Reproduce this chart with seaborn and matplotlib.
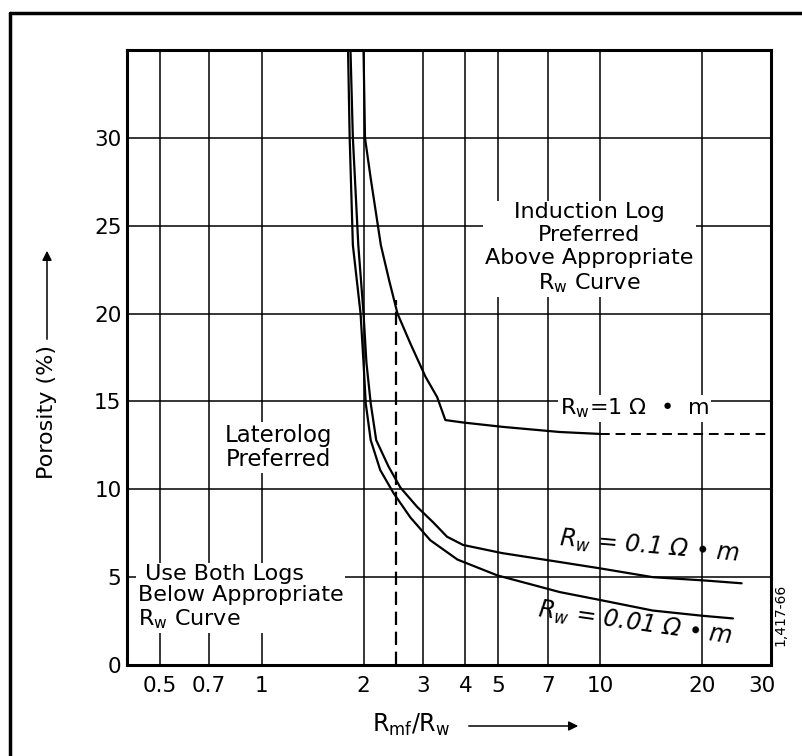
import matplotlib
matplotlib.use("Agg")
import matplotlib.pyplot as plt
import seaborn as sns
import pandas as pd
from matplotlib.lines import Line2D

# curve for Rw = 1 ohm-m (solid part, then dashed extension)
rw1_x = [2.0, 2.02, 2.1, 2.25, 2.38, 2.52, 2.75, 3.05, 3.3, 3.49, 3.94, 5.17, 7.6, 10.0]
rw1_y = [35.0, 30.0, 27.7, 23.9, 21.9, 20.0, 18.3, 16.4, 15.25, 13.94, 13.8, 13.55, 13.26, 13.15]
rw1_ext_x = [10.0, 32.0]
rw1_ext_y = [13.15, 13.15]

# curve for Rw = 0.1 ohm-m
rw01_x = [1.83, 1.86, 1.93, 2.0, 2.04, 2.1, 2.18, 2.37, 2.57, 2.88, 3.22, 3.53, 3.94,
          5.13, 7.6, 10.0, 14.3, 20.7, 26.2]
rw01_y = [35.0, 30.0, 23.9, 20.0, 17.2, 14.9, 12.8, 11.3, 10.1, 9.0, 8.1, 7.3, 6.83,
          6.37, 5.86, 5.5, 5.0, 4.8, 4.65]

# curve for Rw = 0.01 ohm-m
rw001_x = [1.80, 1.82, 1.86, 1.96, 2.0, 2.03, 2.1, 2.24, 2.45, 2.75, 3.15, 3.79, 4.97,
           6.65, 7.6, 10.0, 14.3, 20.1, 24.7]
rw001_y = [35.0, 30.0, 23.9, 20.0, 17.2, 14.9, 12.8, 11.1, 9.8, 8.4, 7.1, 6.0, 5.1,
           4.45, 4.15, 3.7, 3.1, 2.8, 2.65]

# vertical dashed guide at Rmf/Rw = 2.5
guide_x = [2.5, 2.5]
guide_y = [0.0, 20.8]

x_ticks = [0.5, 0.7, 1, 2, 3, 4, 5, 7, 10, 20, 30]
x_tick_labels = ["0.5", "0.7", "1", "2", "3", "4", "5", "7", "10", "20", "30"]
x_grid = [0.5, 0.7, 1, 2, 3, 4, 5, 7, 10, 20]
y_ticks = [0, 5, 10, 15, 20, 25, 30]

sns.set_style("white")
plt.rcParams["font.family"] = ["DejaVu Sans"]
plt.rcParams["mathtext.fontset"] = "dejavusans"
plt.rcParams["text.color"] = "black"

fig = plt.figure(figsize=(8.03, 7.56), dpi=100)
ax = fig.add_axes([127 / 803, 1 - 665 / 756, (771 - 127) / 803, (665 - 50) / 756])
ax.set_xscale("log")

for gx in x_grid:
    ax.axvline(gx, color="black", lw=1.1, zorder=1)
for gy in y_ticks[1:]:
    ax.axhline(gy, color="black", lw=1.1, zorder=1)

curves = pd.DataFrame({
    "x": rw1_x + rw01_x + rw001_x,
    "y": rw1_y + rw01_y + rw001_y,
    "curve": ["1"] * len(rw1_x) + ["0.1"] * len(rw01_x) + ["0.01"] * len(rw001_x),
})
sns.lineplot(data=curves, x="x", y="y", units="curve", estimator=None, sort=False,
             color="black", lw=1.6, ax=ax, zorder=3)
sns.lineplot(x=rw1_ext_x, y=rw1_ext_y, color="black", lw=1.4, ax=ax, zorder=3,
             estimator=None, linestyle=(0, (5, 3)))
sns.lineplot(x=guide_x, y=guide_y, color="black", lw=1.6, ax=ax, zorder=3,
             estimator=None, sort=False, linestyle=(0, (6, 3)))

ax.set_xlim(0.4, 32)
ax.set_ylim(0, 35)
ax.set_xticks(x_ticks)
ax.set_xticklabels(x_tick_labels)
ax.minorticks_off()
ax.set_yticks(y_ticks)
ax.tick_params(axis="both", labelsize=15.5, length=0, colors="black")
ax.tick_params(axis="x", pad=8)
ax.tick_params(axis="y", pad=4)
ax.set_xlabel("")
ax.set_ylabel("")
for sp in ax.spines.values():
    sp.set_color("black")
    sp.set_linewidth(2.2)

box = dict(facecolor="white", edgecolor="none", pad=1.5)
ax.text(9.3, 23.7, "Induction Log\nPreferred\nAbove Appropriate\nR$_\\mathrm{w}$ Curve",
        ha="center", va="center", fontsize=16, linespacing=1.2, bbox=box, zorder=4)
ax.text(1.12, 12.4, "Laterolog\nPreferred", ha="center", va="center",
        fontsize=16.5, linespacing=1.05, bbox=box, zorder=4)
ax.text(0.43, 3.85, " Use Both Logs\nBelow Appropriate\nR$_\\mathrm{w}$ Curve", ha="left",
        va="center", fontsize=16, linespacing=1.12, bbox=box, zorder=4)
ax.text(12.6, 14.6, "R$_\\mathrm{w}$=1 \u03a9  \u2022  m", ha="center", va="center",
        fontsize=16, bbox=box, zorder=4)
ax.text(14.0, 6.7, "R$_w$ = 0.1 \u03a9 \u2022 m", ha="center", va="center", style="italic",
        fontsize=17, rotation=-5, zorder=4)
ax.text(12.7, 2.35, "R$_w$ = 0.01 \u03a9 \u2022 m", ha="center", va="center", style="italic",
        fontsize=17, rotation=-8, zorder=4)

fig.text(780 / 803, 1 - 615 / 756, "1,417-66", rotation=90, ha="center", va="center",
         fontsize=10)

# axis titles with arrows
fig.text(47 / 803, 1 - 412 / 756, "Porosity (%)", rotation=90, ha="center", va="center",
         fontsize=16)
ax.annotate("", xy=(47 / 803, 1 - 248 / 756), xytext=(47 / 803, 1 - 342 / 756),
            xycoords="figure fraction", textcoords="figure fraction",
            arrowprops=dict(arrowstyle="-|>", color="black", lw=1.1, mutation_scale=14))
fig.text(411 / 803, 1 - 725 / 756, "R$_\\mathrm{mf}$/R$_\\mathrm{w}$", ha="center",
         va="center", fontsize=17)
ax.annotate("", xy=(581 / 803, 1 - 726 / 756), xytext=(466 / 803, 1 - 726 / 756),
            xycoords="figure fraction", textcoords="figure fraction",
            arrowprops=dict(arrowstyle="-|>", color="black", lw=1.1, mutation_scale=14))

# outer frame of the scanned page
fig.add_artist(Line2D([10 / 803, 10 / 803], [0, 1 - 13 / 756], color="black", lw=2.5,
                      transform=fig.transFigure))
fig.add_artist(Line2D([10 / 803, 1], [1 - 13 / 756, 1 - 13 / 756], color="black", lw=2.5,
                      transform=fig.transFigure))

fig.savefig("out.png", dpi=100, facecolor="white")
